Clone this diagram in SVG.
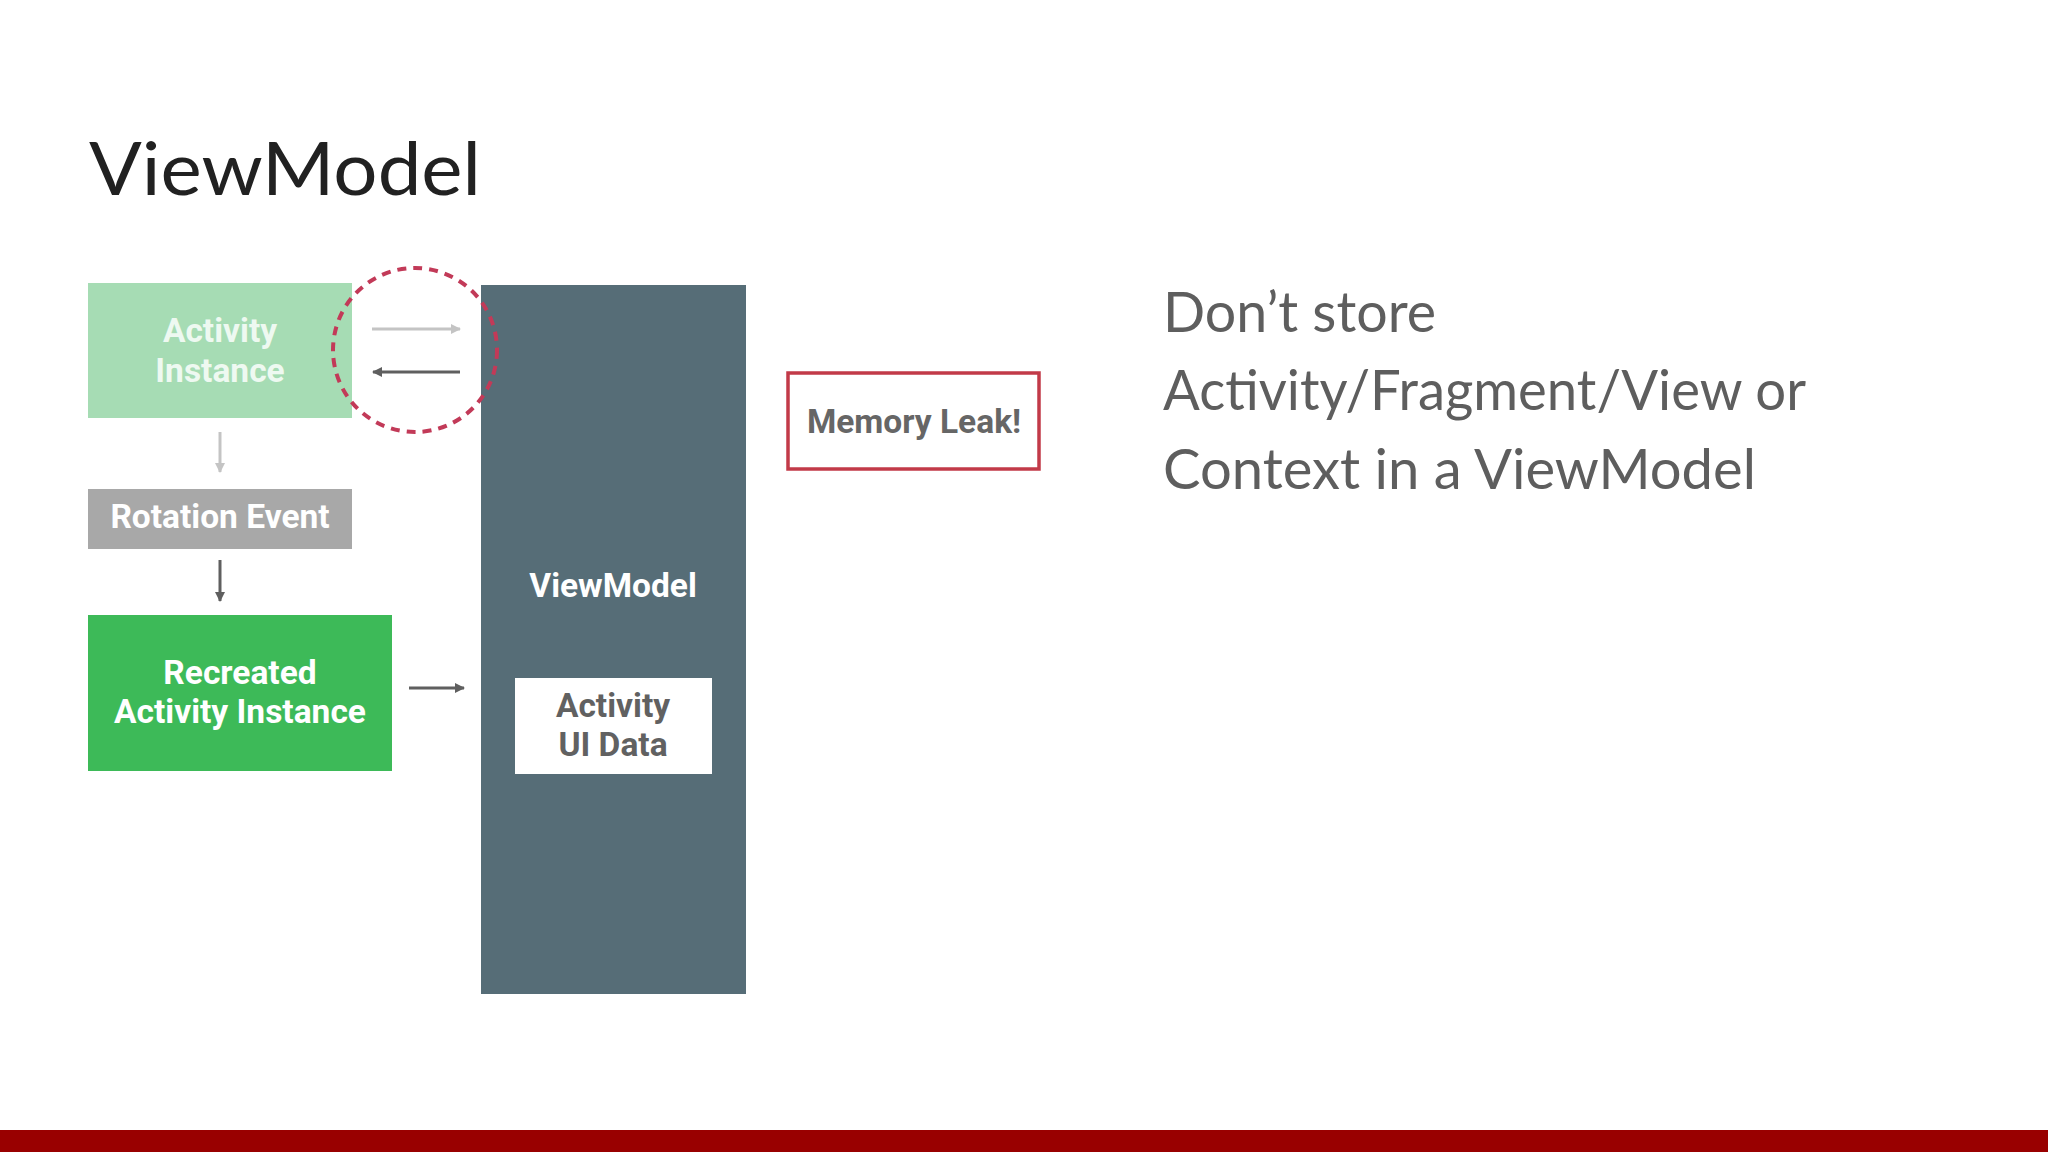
<svg xmlns="http://www.w3.org/2000/svg" width="2048" height="1152" viewBox="0 0 2048 1152">
<style>
.lbl{font-family:Roboto,"Liberation Sans",sans-serif;font-weight:700;font-size:33.5px;text-anchor:middle}
.slide{font-family:Lato,"Open Sans",sans-serif;font-weight:400}
</style>
<defs>
<marker id="ahLight" markerWidth="10" markerHeight="10" refX="9" refY="5" orient="auto" markerUnits="userSpaceOnUse"><path d="M0,0 L10,5 L0,10 Z" fill="#c4c4c4"/></marker>
<marker id="ahDark" markerWidth="10" markerHeight="10" refX="9" refY="5" orient="auto" markerUnits="userSpaceOnUse"><path d="M0,0 L10,5 L0,10 Z" fill="#5f5f5f"/></marker>
</defs>
<rect width="2048" height="1152" fill="#ffffff"/>
<text class="slide" x="89" y="195" font-size="74" fill="#212121" textLength="392" lengthAdjust="spacingAndGlyphs">ViewModel</text>

<g id="activity-instance">
<rect x="88" y="283" width="264" height="135" fill="#a6dcb4"/>
<text class="lbl" x="220" y="342" fill="#eef9f1">Activity</text>
<text class="lbl" x="220" y="382" fill="#eef9f1">Instance</text>
</g>
<g id="rotation-event">
<rect x="88" y="489" width="264" height="60" fill="#a8a8a8"/>
<text class="lbl" x="220" y="528" fill="#ffffff">Rotation Event</text>
</g>
<g id="recreated-activity">
<rect x="88" y="615" width="304" height="156" fill="#3dba58"/>
<text class="lbl" x="240" y="684" fill="#ffffff">Recreated</text>
<text class="lbl" x="240" y="723" fill="#ffffff">Activity Instance</text>
</g>
<g id="viewmodel">
<rect x="481" y="285" width="265" height="709" fill="#566d77"/>
<text class="lbl" x="613" y="597" fill="#ffffff">ViewModel</text>
</g>
<g id="activity-ui-data">
<rect x="515" y="678" width="197" height="96" fill="#ffffff"/>
<text class="lbl" x="613" y="717" fill="#616161">Activity</text>
<text class="lbl" x="613" y="756" fill="#616161">UI Data</text>
</g>
<g id="leak-highlight">
<circle cx="415" cy="350" r="82" fill="none" stroke="#c23a58" stroke-width="4" stroke-dasharray="9 7"/>
</g>
<g id="memory-leak">
<rect x="788" y="373" width="251" height="96" fill="#ffffff" stroke="#c23a48" stroke-width="3.5"/>
<text class="lbl" x="914" y="433" fill="#666666">Memory Leak!</text>
</g>

<g id="connectors" stroke-width="3" fill="none">
<line x1="372" y1="329" x2="460" y2="329" stroke="#c4c4c4" marker-end="url(#ahLight)"/>
<line x1="460" y1="372" x2="373" y2="372" stroke="#5f5f5f" marker-end="url(#ahDark)"/>
<line x1="220" y1="432" x2="220" y2="472" stroke="#c4c4c4" marker-end="url(#ahLight)"/>
<line x1="220" y1="560" x2="220" y2="601" stroke="#5f5f5f" marker-end="url(#ahDark)"/>
<line x1="409" y1="688" x2="464" y2="688" stroke="#5f5f5f" marker-end="url(#ahDark)"/>
</g>

<g id="note" class="slide" font-size="56" fill="#5e5e5e">
<text x="1163" y="332" textLength="273" lengthAdjust="spacingAndGlyphs">Don’t store</text>
<text x="1163" y="410" textLength="643" lengthAdjust="spacingAndGlyphs">Activity/Fragment/View or</text>
<text x="1163" y="489" textLength="593" lengthAdjust="spacingAndGlyphs">Context in a ViewModel</text>
</g>
<rect x="0" y="1130" width="2048" height="22" fill="#990000"/>
</svg>
